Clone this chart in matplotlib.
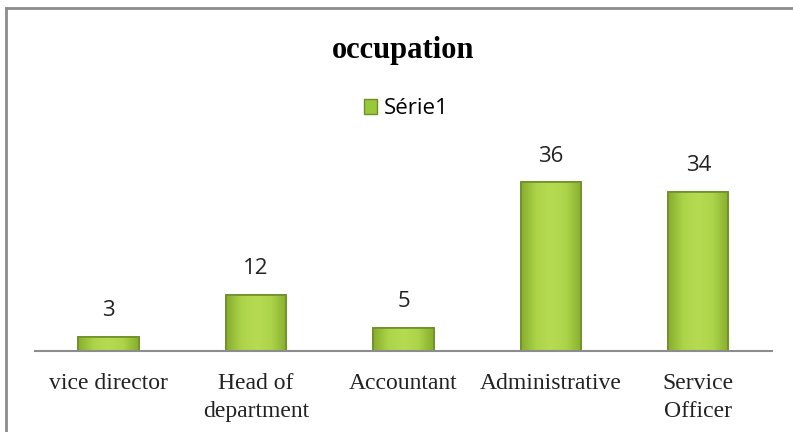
import numpy as np
import matplotlib.pyplot as plt
from matplotlib.lines import Line2D
from matplotlib.patches import Patch
from matplotlib.colors import LinearSegmentedColormap

categories = ['vice director', 'Head of\ndepartment', 'Accountant', 'Administrative', 'Service\nOfficer']
values = [3, 12, 5, 36, 34]
series_name = 'Série1'

fig = plt.figure(figsize=(7.93, 4.32), dpi=100)
ax = fig.add_axes([0.044, 0.1875, 0.9295, 0.4885])

x = range(len(categories))
bars = ax.bar(x, values, width=0.41, color='#9bc83a', edgecolor='#6f8f2a', linewidth=1.2)

# soft horizontal shading on each bar
shade = LinearSegmentedColormap.from_list('shade', ['#88ae2e', '#acd449', '#b6db52', '#acd449', '#88ae2e'])
grad = np.linspace(0, 1, 64).reshape(1, -1)
for b in bars:
    im = ax.imshow(grad, cmap=shade, aspect='auto', zorder=b.get_zorder() + 0.1,
                   extent=[b.get_x(), b.get_x() + b.get_width(), 0, b.get_height()])
    im.set_clip_path(b)
    ax.bar(b.get_x() + b.get_width() / 2, b.get_height(), width=b.get_width(),
           facecolor='none', edgecolor='#6f8f2a', linewidth=1.2, zorder=b.get_zorder() + 0.2)

for b, v in zip(bars, values):
    ax.text(b.get_x() + b.get_width() / 2, v + 3.3, str(v), ha='center', va='bottom',
            fontsize=16, family='Open Sans', color='#222222')

ax.set_xlim(-0.5, len(categories) - 0.5)
ax.set_ylim(0, 45)
ax.set_yticks([])
ax.set_xticks(list(x))
ax.set_xticklabels(categories, family='Liberation Serif', fontsize=17, color='#222222',
                   linespacing=1.4)
ax.tick_params(axis='x', length=0, pad=16)
for s in ['top', 'right', 'left']:
    ax.spines[s].set_visible(False)
ax.spines['bottom'].set_color('#8c8c8c')
ax.spines['bottom'].set_linewidth(1.5)

fig.text(0.508, 0.882, 'occupation', ha='center', va='center', fontsize=22,
         fontweight='bold', family='Liberation Serif')
fig.legend(handles=[Patch(facecolor='#9bc83a', edgecolor='#6f8f2a', label=series_name)],
           loc='center', bbox_to_anchor=(0.512, 0.748), frameon=False,
           prop={'family': 'Open Sans', 'size': 16}, handlelength=0.6, handleheight=0.6,
           handletextpad=0.3)

# chart frame (left and top edges visible)
fig.add_artist(Line2D([0.008, 0.008], [0, 0.982], color='#8c8c8c', linewidth=2))
fig.add_artist(Line2D([0.008, 1.0], [0.982, 0.982], color='#8c8c8c', linewidth=2))

fig.savefig('out.png', dpi=100)
